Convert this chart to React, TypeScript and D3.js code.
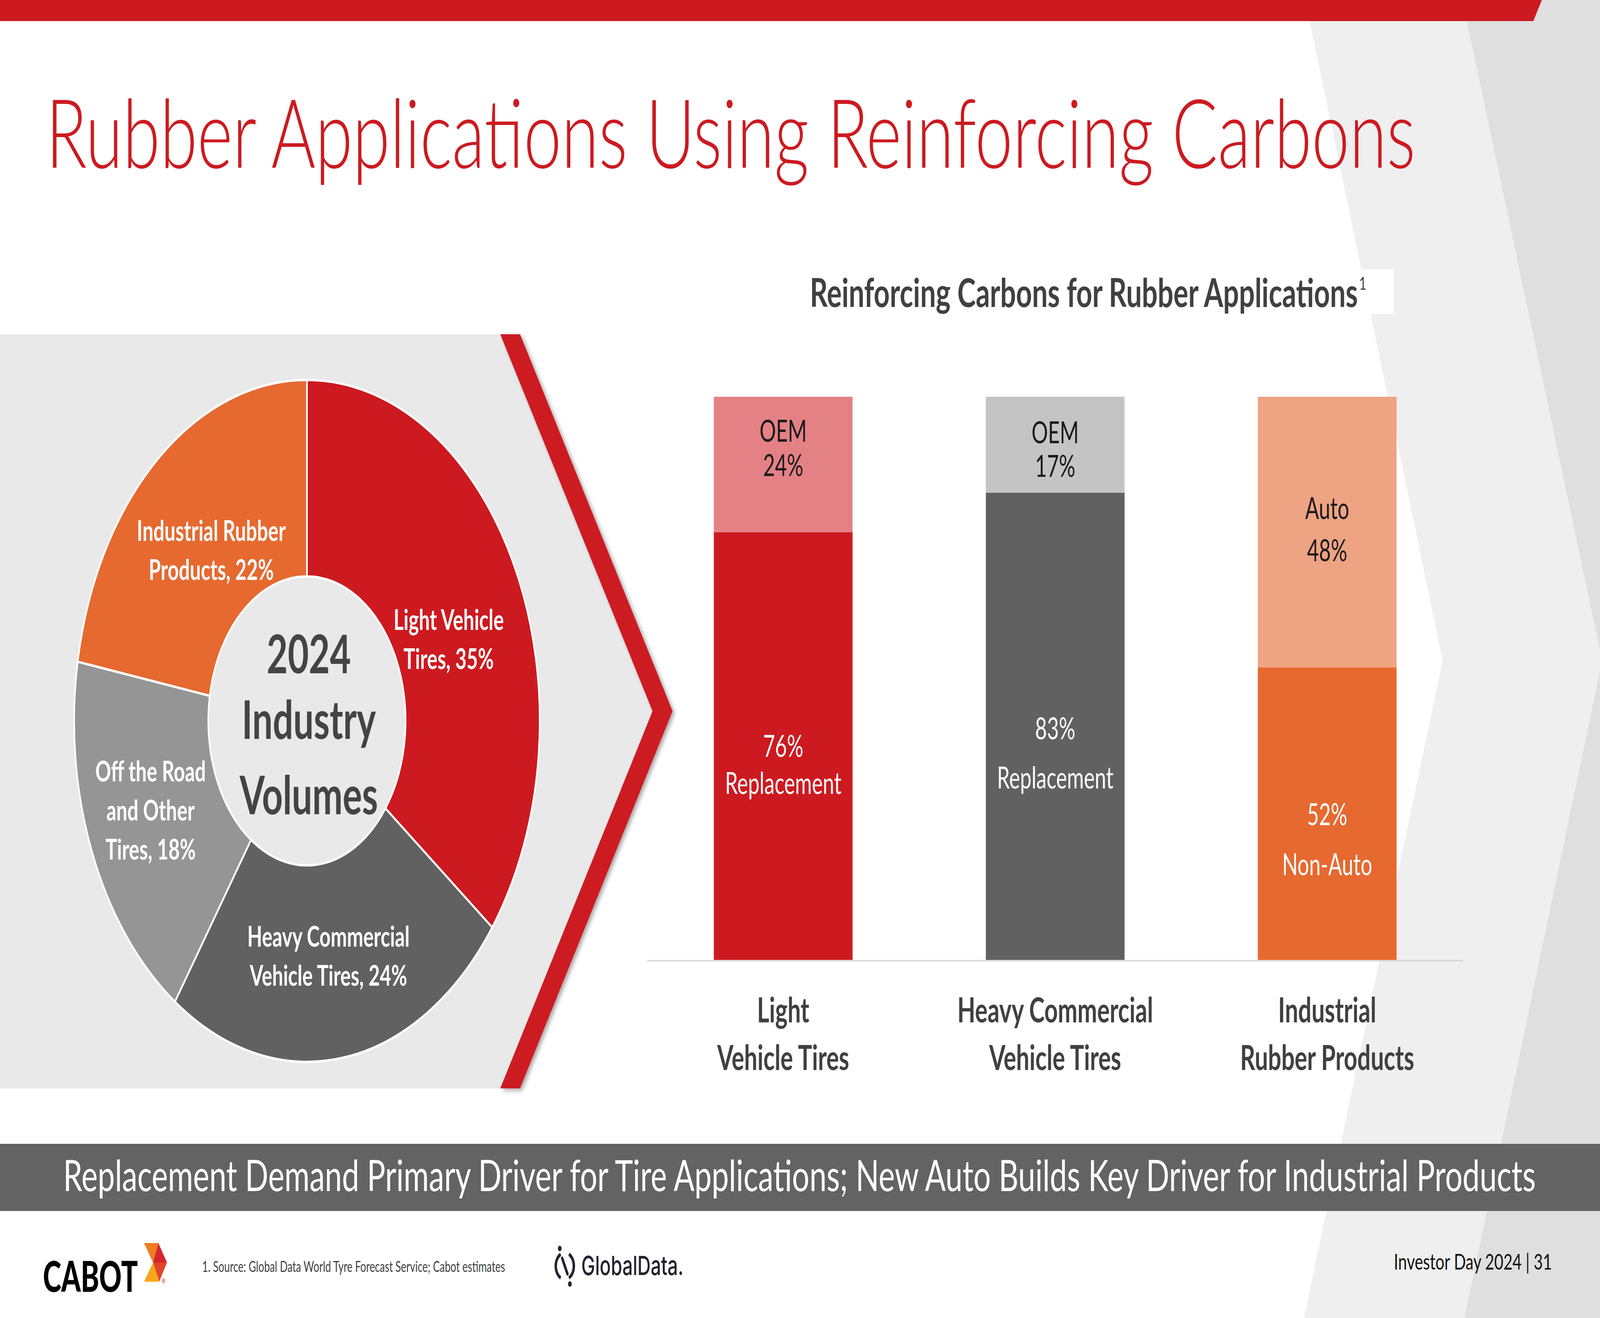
import React, { useEffect } from 'react';
import * as d3 from 'd3';

// ---------------- DATA ----------------
const pieCategories = ['Light Vehicle Tires', 'Heavy Commercial Vehicle Tires', 'Off the Road and Other Tires', 'Industrial Rubber Products'];
const pieValues = [35, 24, 18, 22];
const pieLabelLines = [
  ['Light Vehicle', 'Tires, 35%'],
  ['Heavy Commercial', 'Vehicle Tires, 24%'],
  ['Off the Road', 'and Other', 'Tires, 18%'],
  ['Industrial Rubber', 'Products, 22%'],
];
const pieCenterLines = ['2024', 'Industry', 'Volumes'];

const barCategories = ['Light Vehicle Tires', 'Heavy Commercial Vehicle Tires', 'Industrial Rubber Products'];
const barCategoryLines = [['Light', 'Vehicle Tires'], ['Heavy Commercial', 'Vehicle Tires'], ['Industrial', 'Rubber Products']];
const bottomValues = [76, 83, 52];
const topValues = [24, 17, 48];
const bottomLabels = [['76%', 'Replacement'], ['83%', 'Replacement'], ['52%', 'Non-Auto']];
const topLabels = [['OEM', '24%'], ['OEM', '17%'], ['Auto', '48%']];

const titleText = 'Rubber Applications Using Reinforcing Carbons';
const chartTitle = 'Reinforcing Carbons for Rubber Applications';
const bannerText = 'Replacement Demand Primary Driver for Tire Applications; New Auto Builds Key Driver for Industrial Products';
const footnoteText = '1. Source: Global Data World Tyre Forecast Service; Cabot estimates';
const pageText = 'Investor Day 2024 | 31';

// ---------------- STYLE / LAYOUT ----------------
const W = 6000;
const H = 3375;
const FONT = 'Lato, "Open Sans", "DejaVu Sans", sans-serif';
const RED = '#cc1a20';
const TEXT_DARK = '#404040';
const pieColors = ['#cc1a20', '#616161', '#959595', '#e66930'];
const bottomColors = ['#cc1a20', '#616161', '#e66930'];
const topColors = ['#e48185', '#c4c4c4', '#eea383'];
const topTextColor = '#1a1a1a';

const PIE = { cx: 1151, cy: 1846, rIn: 370, rOut: 873, labelR: 600 };
const pieLabelNudge = [[-6, 57], [-14, 10], [-33, -3], [27, 23]];
const pieLabelFont = 73;
const pieLabelLH = 100;
const pieLabelCap = 52;
const centerBaselines = [-122, 46, 239];

const BAR = { x0: 2427, x1: 5487, yBase: 2460, yTop: 1016 };
const topLabelDy = [[-58, 30], [-4, 82], [-34, 74]];
const bottomLabelDy = [[27, 122], [32, 158], [28, 156]];

export default function App() {
  useEffect(() => {
    document.body.style.margin = '0';
    document.body.style.overflow = 'hidden';
    document.documentElement.style.overflow = 'hidden';
  }, []);

  // Pie
  const pie = d3.pie<number>().sort(null).startAngle(0).endAngle(2 * Math.PI)(pieValues);
  const arc = d3.arc<d3.PieArcDatum<number>>().innerRadius(PIE.rIn).outerRadius(PIE.rOut);
  const labelArc = d3.arc<d3.PieArcDatum<number>>().innerRadius(PIE.labelR).outerRadius(PIE.labelR);

  // Bars
  const x = d3.scaleBand<string>().domain(barCategories).range([BAR.x0, BAR.x1]).paddingInner(0.49).paddingOuter(0.245);
  const y = d3.scaleLinear().domain([0, 100]).range([BAR.yBase, BAR.yTop]);
  const rows = barCategories.map((c, i) => ({ cat: c, bottom: bottomValues[i], top: topValues[i] }));
  const stack = d3.stack<any>().keys(['bottom', 'top'])(rows);

  const bw = x.bandwidth();

  return (
    <svg
      width={W}
      height={H}
      viewBox={`0 0 ${W} ${H}`}
      preserveAspectRatio="none"
      style={{ display: 'block', width: '100vw', height: '100vh', fontFamily: FONT }}
    >
      <defs>
        <filter id="shadow" x="-20%" y="-20%" width="140%" height="140%">
          <feDropShadow dx="8" dy="5" stdDeviation="7" floodColor="#000" floodOpacity="0.35" />
        </filter>
      </defs>
      <rect x={0} y={0} width={W} height={H} fill="#ffffff" />
      {/* background chevrons */}
      <polygon points="4895,0 6000,0 6000,3375 4890,3375 5410,1692" fill="#efefef" />
      <polygon points="5484,0 6000,0 6000,3375 5492,3375 6008,1692" fill="#dfdfdf" />
      {/* top red bar */}
      <polygon points="0,0 5782,0 5750,54 0,54" fill={RED} />

      {/* title */}
      <text x={172} y={430} fontSize={245} fontWeight={300} fill={RED} textLength={5136} lengthAdjust="spacingAndGlyphs">
        {titleText}
      </text>

      {/* pie panel */}
      <polygon points="0,856 1876,856 2447,1821 1876,2787 0,2787" fill="#e9e9e9" />
      <polygon points="1876,856 1950,856 2522,1821 1950,2787 1876,2787 2447,1821" fill={RED} filter="url(#shadow)" />

      <g transform={`translate(${PIE.cx},${PIE.cy})`}>
        {pie.map((d, i) => (
          <path key={pieCategories[i]} d={arc(d) || ''} fill={pieColors[i]} stroke="#ffffff" strokeWidth={6} />
        ))}
        {pie.map((d, i) => {
          const [lx, ly] = labelArc.centroid(d);
          const cx = lx + pieLabelNudge[i][0];
          const cy = ly + pieLabelNudge[i][1];
          const lines = pieLabelLines[i];
          const first = cy - ((lines.length - 1) * pieLabelLH) / 2 + pieLabelCap / 2;
          return (
            <text key={'pl' + i} textAnchor="middle" fontSize={pieLabelFont} fontWeight={700} fill="#ffffff">
              {lines.map((t, j) => (
                <tspan key={j} x={cx} y={first + j * pieLabelLH}>{t}</tspan>
              ))}
            </text>
          );
        })}
        <text textAnchor="middle" fontSize={136} fontWeight={700} fill="#444444">
          {pieCenterLines.map((t, j) => (
            <tspan key={j} x={7} y={centerBaselines[j]}>{t}</tspan>
          ))}
        </text>
      </g>

      {/* bar chart title */}
      <rect x={3000} y={689} width={2227} height={115} fill="#ffffff" />
      <text x={3037} y={786} fontSize={101} fontWeight={700} fill={TEXT_DARK} textLength={2055} lengthAdjust="spacingAndGlyphs">
        {chartTitle}
      </text>
      <text x={5097} y={742} fontSize={46} fill={TEXT_DARK}>1</text>

      {/* bars */}
      {stack.map((series, si) =>
        series.map((d, i) => (
          <rect
            key={`${si}-${i}`}
            x={x(barCategories[i])}
            y={y(d[1])}
            width={bw}
            height={y(d[0]) - y(d[1])}
            fill={si === 0 ? bottomColors[i] : topColors[i]}
          />
        ))
      )}
      {/* bar labels */}
      {stack.map((series, si) =>
        series.map((d, i) => {
          const cxm = (x(barCategories[i]) as number) + bw / 2;
          const cym = (y(d[0]) + y(d[1])) / 2;
          const lines = si === 0 ? bottomLabels[i] : topLabels[i];
          const dys = si === 0 ? bottomLabelDy[i] : topLabelDy[i];
          return (
            <text key={`l${si}-${i}`} textAnchor="middle" fontSize={77} fill={si === 0 ? '#ffffff' : topTextColor}>
              {lines.map((t, j) => (
                <tspan key={j} x={cxm} y={cym + dys[j]}>{t}</tspan>
              ))}
            </text>
          );
        })
      )}
      {/* axis baseline */}
      <line x1={BAR.x0} x2={BAR.x1} y1={BAR.yBase} y2={BAR.yBase} stroke="#d9d9d9" strokeWidth={4} />
      {/* category labels */}
      {barCategories.map((c, i) => (
        <text key={c} textAnchor="middle" fontSize={88} fontWeight={700} fill={TEXT_DARK}>
          {barCategoryLines[i].map((t, j) => (
            <tspan key={j} x={(x(c) as number) + bw / 2} y={BAR.yBase + 158 + j * 122}>{t}</tspan>
          ))}
        </text>
      ))}

      {/* banner */}
      <rect x={0} y={2929} width={W} height={172} fill="#636363" />
      <text x={2998} y={3050} textAnchor="middle" fontSize={110} fill="#ffffff" textLength={5522} lengthAdjust="spacingAndGlyphs">
        {bannerText}
      </text>

      {/* footer: CABOT logo */}
      <text x={161} y={3308} fontSize={109} fontWeight={900} fill="#000000" textLength={356} lengthAdjust="spacingAndGlyphs">
        CABOT
      </text>
      <polygon points="540,3183 594,3183 574,3233" fill="#ef7d22" />
      <polygon points="594,3183 626,3233 574,3233" fill="#d7262b" />
      <polygon points="574,3233 626,3233 597,3282" fill="#e2452a" />
      <polygon points="540,3282 574,3233 597,3282" fill="#f9a61b" />
      <text x={606} y={3286} fontSize={18} fill="#d7262b">®</text>

      {/* footnote */}
      <text x={758} y={3257} fontSize={38} fill={TEXT_DARK} textLength={1136} lengthAdjust="spacingAndGlyphs">
        {footnoteText}
      </text>

      {/* GlobalData logo */}
      <g stroke="#23232f" strokeWidth={9} fill="none" strokeLinecap="round">
        <path d={d3.arc()({ innerRadius: 34, outerRadius: 34, startAngle: 0.15 * Math.PI, endAngle: 0.85 * Math.PI } as any) || ''} transform="translate(2118,3242)" />
        <path d={d3.arc()({ innerRadius: 34, outerRadius: 34, startAngle: 1.15 * Math.PI, endAngle: 1.85 * Math.PI } as any) || ''} transform="translate(2118,3242)" />
        <line x1={2108} y1={3222} x2={2128} y2={3262} />
      </g>
      <circle cx={2099} cy={3197} r={7} fill="#23232f" />
      <circle cx={2137} cy={3288} r={7} fill="#23232f" />
      <text x={2180} y={3265} fontFamily='Inter, "Noto Sans", sans-serif' fontSize={68} fontWeight={500} fill="#23232f" textLength={383} lengthAdjust="spacingAndGlyphs">
        GlobalData.
      </text>

      {/* page number */}
      <text x={5227} y={3251} fontSize={57} fill="#111111" textLength={593} lengthAdjust="spacingAndGlyphs" xmlSpace="preserve">
        {pageText}
      </text>
    </svg>
  );
}
